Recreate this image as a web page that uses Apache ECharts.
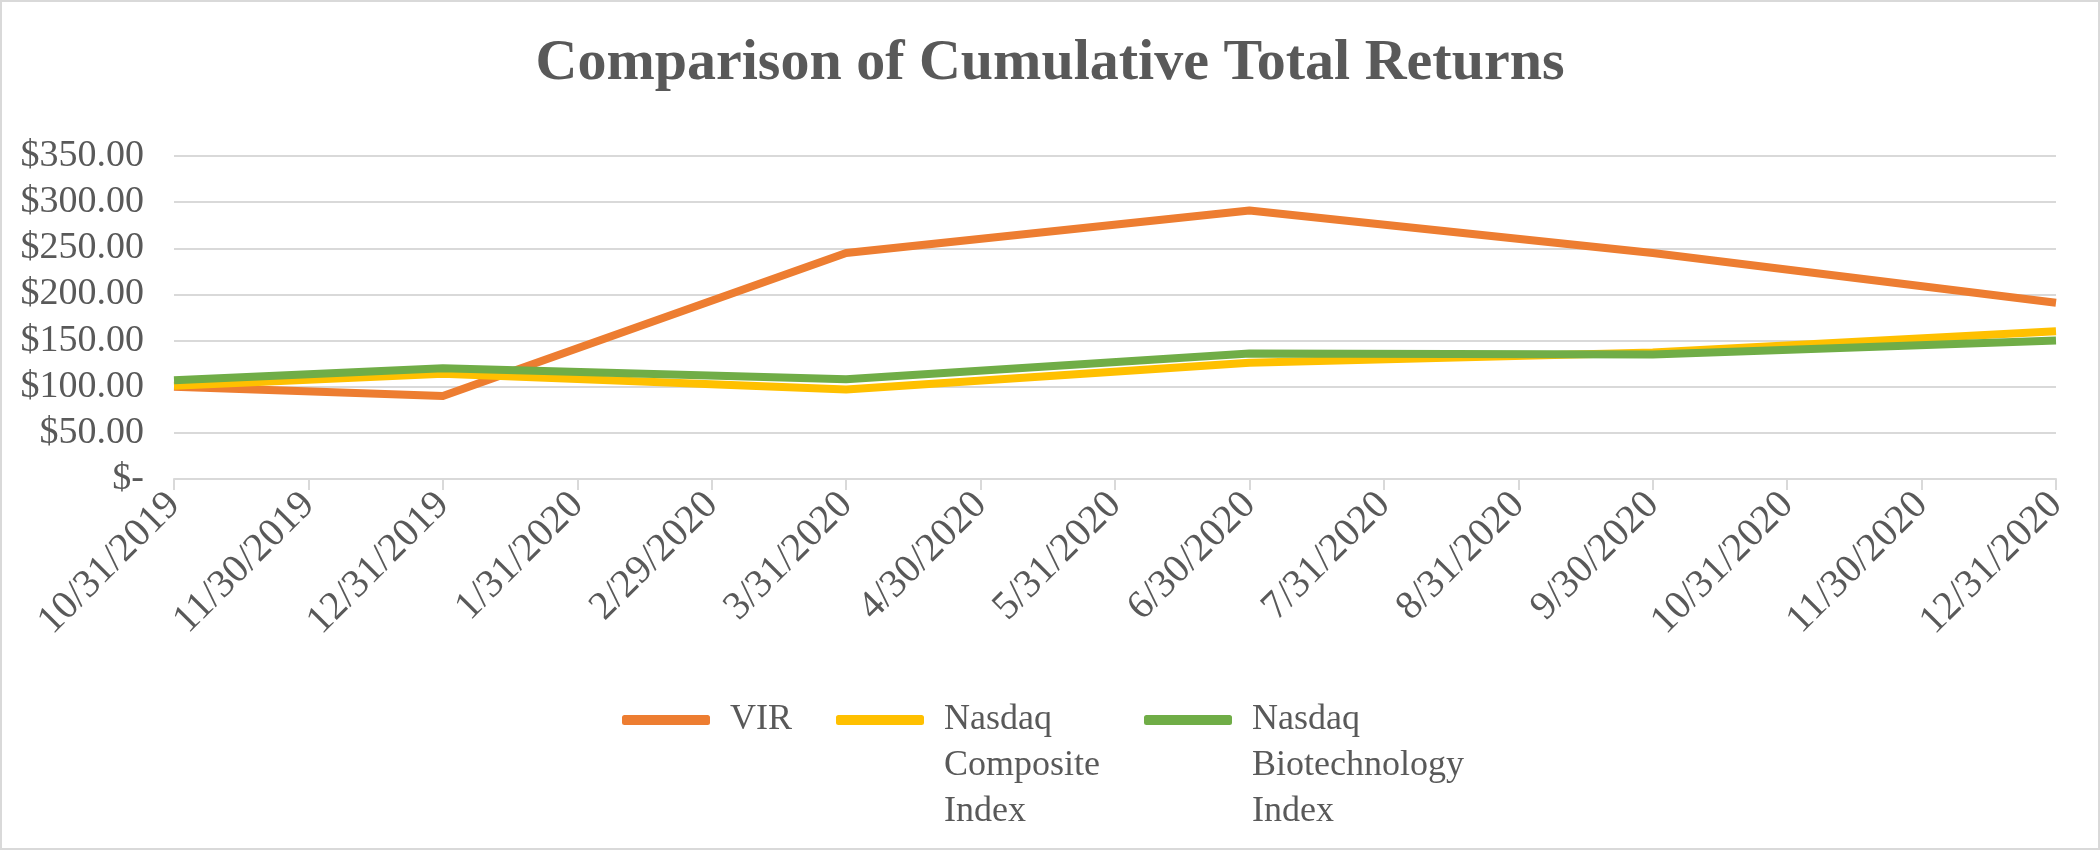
<!DOCTYPE html>
<html>
<head>
<meta charset="utf-8">
<script src="https://cdn.jsdelivr.net/npm/echarts@6/dist/echarts.min.js"></script>
<style>
html,body{margin:0;padding:0;background:#fff;}
#chart{width:2096px;height:846px;border:2px solid #D9D9D9;}
</style>
</head>
<body>
<div id="chart"></div>
<script>
const categories = ['10/31/2019','11/30/2019','12/31/2019','1/31/2020','2/29/2020','3/31/2020','4/30/2020','5/31/2020','6/30/2020','7/31/2020','8/31/2020','9/30/2020','10/31/2020','11/30/2020','12/31/2020'];
const vir       = [100, null, 90,  null, null, 245, null, null, 291, null, null, 245, null, null, 191];
const composite = [101, null, 114, null, null, 97,  null, null, 126, null, null, 137, null, null, 160];
const biotech   = [107, null, 120, null, null, 108, null, null, 136, null, null, 135, null, null, 150];
const yTicks = {min: 0, max: 350, interval: 50};
const seriesNames = ['VIR', 'Nasdaq Composite Index', 'Nasdaq Biotechnology Index'];
const legendLabels = {'VIR': 'VIR', 'Nasdaq Composite Index': '\u00a0\n\u00a0\nNasdaq\nComposite\nIndex', 'Nasdaq Biotechnology Index': '\u00a0\n\u00a0\nNasdaq\nBiotechnology\nIndex'};

const FONT = '"Liberation Serif","Times New Roman",serif';
const TXT = '#595959';
const chart = echarts.init(document.getElementById('chart'));
function mk(name, data, color) {
  return {name, type: 'line', data, connectNulls: true, showSymbol: false, symbol: 'none',
    lineStyle: {color, width: 8, join: 'round'}, itemStyle: {color}, animation: false};
}
chart.setOption({
  animation: false,
  title: {text: 'Comparison of Cumulative Total Returns', left: 'center', top: 28,
    textStyle: {fontFamily: FONT, fontSize: 58, fontWeight: 'bold', color: TXT}},
  grid: {left: 172, right: 42, top: 154, bottom: 369, containLabel: false},
  legend: {
    left: 615, top: 598, itemWidth: 88, itemHeight: 10, itemGap: 44, icon: 'roundRect',
    data: seriesNames,
    formatter: n => legendLabels[n],
    textStyle: {fontFamily: FONT, fontSize: 36, color: TXT, lineHeight: 46, padding: [0,0,0,15]}
  },
  xAxis: {
    type: 'category', data: categories, boundaryGap: false,
    axisLine: {lineStyle: {color: '#D9D9D9', width: 2}},
    axisTick: {show: true, length: 11, lineStyle: {color: '#D9D9D9', width: 2}},
    axisLabel: {rotate: 45, fontFamily: FONT, fontSize: 40, color: TXT, margin: 20, interval: 0}
  },
  yAxis: {
    type: 'value', min: yTicks.min, max: yTicks.max, interval: yTicks.interval,
    axisLine: {show: false}, axisTick: {show: false},
    splitLine: {lineStyle: {color: '#D9D9D9', width: 2}},
    axisLabel: {fontFamily: FONT, fontSize: 38, color: TXT, margin: 30,
      formatter: v => v === 0 ? '$-' : '$' + v.toFixed(2)}
  },
  series: [mk(seriesNames[0], vir, '#ED7D31'), mk(seriesNames[1], composite, '#FFC000'), mk(seriesNames[2], biotech, '#70AD47')]
});
</script>
</body>
</html>
